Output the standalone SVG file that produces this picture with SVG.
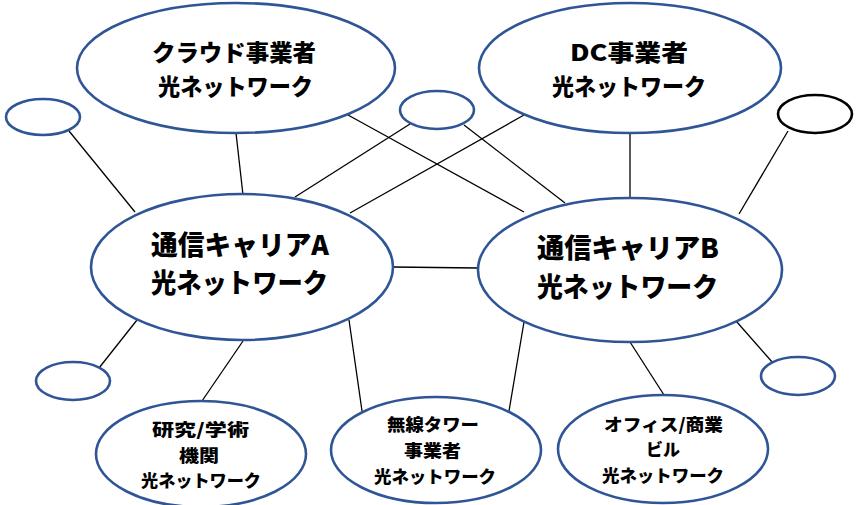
<svg xmlns="http://www.w3.org/2000/svg" width="856" height="505" viewBox="0 0 856 505">
<style>
.n{fill:#fff;stroke:#2f5597;stroke-width:2.6}
.k{fill:#fff;stroke:#000;stroke-width:2.6}
.c line{stroke:#000;stroke-width:1.3}
text{font-family:"Noto Sans CJK JP","Noto Sans",sans-serif;font-weight:900;fill:#000;text-anchor:middle}
.t1{font-size:23px}
.t2{font-size:27px}
.t3{font-size:17px}
</style>
<rect width="856" height="505" fill="#fff"/>
<g class="c" id="connectors">
<line x1="69" y1="131" x2="135" y2="212"/>
<line x1="236" y1="133" x2="243" y2="195"/>
<line x1="410" y1="124" x2="295" y2="197"/>
<line x1="348" y1="115" x2="524" y2="212"/>
<line x1="524" y1="115" x2="350" y2="213"/>
<line x1="464" y1="125" x2="565" y2="203"/>
<line x1="630" y1="133" x2="630" y2="198"/>
<line x1="788" y1="131" x2="739" y2="214"/>
<line x1="393" y1="267" x2="478" y2="268"/>
<line x1="137" y1="320" x2="99" y2="368"/>
<line x1="243" y1="341" x2="202" y2="401"/>
<line x1="349" y1="320" x2="362" y2="411"/>
<line x1="524" y1="322" x2="509" y2="411"/>
<line x1="630" y1="342" x2="664" y2="395"/>
<line x1="736" y1="321" x2="773" y2="363"/>
</g>
<g id="cloud"><ellipse class="n" cx="236" cy="68" rx="159" ry="65"/><text class="t1" x="234" y="61" textLength="164" lengthAdjust="spacingAndGlyphs">クラウド事業者</text><text class="t1" x="235.5" y="95" textLength="155" lengthAdjust="spacingAndGlyphs">光ネットワーク</text></g>
<g id="dc"><ellipse class="n" cx="630" cy="68" rx="151" ry="65"/><text class="t1" x="629" y="61" textLength="118" lengthAdjust="spacingAndGlyphs">DC事業者</text><text class="t1" x="629" y="95" textLength="154" lengthAdjust="spacingAndGlyphs">光ネットワーク</text></g>
<g id="small-tl"><ellipse class="n" cx="43" cy="117" rx="37" ry="18"/></g>
<g id="small-tm"><ellipse class="n" cx="437" cy="110" rx="37" ry="19"/></g>
<g id="small-tr"><ellipse class="k" cx="815" cy="114" rx="37" ry="19"/></g>
<g id="carrier-a"><ellipse class="n" cx="242" cy="267" rx="151" ry="73"/><text class="t2" x="240" y="255" textLength="178" lengthAdjust="spacingAndGlyphs">通信キャリアA</text><text class="t2" x="239.5" y="293" textLength="177" lengthAdjust="spacingAndGlyphs">光ネットワーク</text></g>
<g id="carrier-b"><ellipse class="n" cx="630" cy="270" rx="152" ry="72"/><text class="t2" x="628" y="258" textLength="182" lengthAdjust="spacingAndGlyphs">通信キャリアB</text><text class="t2" x="627.5" y="297" textLength="181" lengthAdjust="spacingAndGlyphs">光ネットワーク</text></g>
<g id="small-bl"><ellipse class="n" cx="73" cy="381" rx="37" ry="19"/></g>
<g id="small-br"><ellipse class="n" cx="798" cy="376" rx="37" ry="19"/></g>
<g id="research"><ellipse class="n" cx="201" cy="454" rx="105" ry="53"/><text class="t3" x="200.5" y="436" textLength="97" lengthAdjust="spacingAndGlyphs">研究/学術</text><text class="t3" x="199" y="462" textLength="40" lengthAdjust="spacingAndGlyphs">機関</text><text class="t3" x="201" y="487" textLength="120" lengthAdjust="spacingAndGlyphs">光ネットワーク</text></g>
<g id="wireless"><ellipse class="n" cx="436" cy="450" rx="105" ry="53"/><text class="t3" x="433" y="431" textLength="92" lengthAdjust="spacingAndGlyphs">無線タワー</text><text class="t3" x="432.5" y="457" textLength="57" lengthAdjust="spacingAndGlyphs">事業者</text><text class="t3" x="435" y="483" textLength="122" lengthAdjust="spacingAndGlyphs">光ネットワーク</text></g>
<g id="office"><ellipse class="n" cx="663" cy="449" rx="105" ry="54"/><text class="t3" x="663.5" y="431" textLength="119" lengthAdjust="spacingAndGlyphs">オフィス/商業</text><text class="t3" x="663" y="456" textLength="34" lengthAdjust="spacingAndGlyphs">ビル</text><text class="t3" x="663" y="482" textLength="122" lengthAdjust="spacingAndGlyphs">光ネットワーク</text></g>
</svg>
